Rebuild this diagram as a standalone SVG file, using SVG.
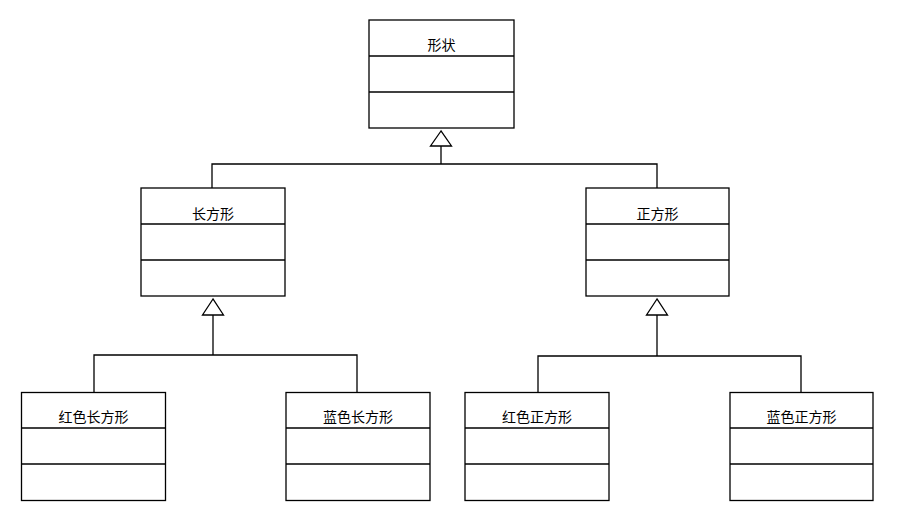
<svg xmlns="http://www.w3.org/2000/svg" width="899" height="525" viewBox="0 0 899 525">
<style>
.box{fill:#fff;stroke:#000;stroke-width:1.3}
.div{stroke:#000;stroke-width:1.3;fill:none}
.t{font-family:"Liberation Sans","Noto Sans CJK SC",sans-serif;font-size:14px;fill:#000;text-anchor:middle}
.c{stroke:#000;stroke-width:1.3;fill:none}
.tri{fill:#fff;stroke:#000;stroke-width:1.3}
</style>
<rect width="899" height="525" fill="#fff"/>
<g id="connectors">
<polyline class="c" points="441,146 441,164"/>
<polyline class="c" points="212,188 212,164 657,164 657,188"/>
<polygon class="tri" points="441,131 430.5,146 451.5,146"/>
<polyline class="c" points="213,315 213,355"/>
<polyline class="c" points="94,392 94,355 357,355 357,392"/>
<polygon class="tri" points="213,299 202.5,315 223.5,315"/>
<polyline class="c" points="657,315 657,356"/>
<polyline class="c" points="538,392 538,356 801,356 801,392"/>
<polygon class="tri" points="657,299 646.5,315 667.5,315"/>
</g>
<g id="shape">
<rect class="box" x="369" y="20" width="145" height="108"/>
<line class="div" x1="369" y1="56" x2="514" y2="56"/>
<line class="div" x1="369" y1="92" x2="514" y2="92"/>
<text class="t" x="441.5" y="50">形状</text>
</g>
<g id="rectangle">
<rect class="box" x="141" y="188" width="144" height="108"/>
<line class="div" x1="141" y1="224" x2="285" y2="224"/>
<line class="div" x1="141" y1="260" x2="285" y2="260"/>
<text class="t" x="213" y="218.5">长方形</text>
</g>
<g id="square">
<rect class="box" x="586" y="188" width="143" height="108"/>
<line class="div" x1="586" y1="224" x2="729" y2="224"/>
<line class="div" x1="586" y1="260" x2="729" y2="260"/>
<text class="t" x="657.5" y="218.5">正方形</text>
</g>
<g id="red-rectangle">
<rect class="box" x="21.5" y="392.5" width="144" height="108"/>
<line class="div" x1="21.5" y1="428" x2="165.5" y2="428"/>
<line class="div" x1="21.5" y1="464" x2="165.5" y2="464"/>
<text class="t" x="93.5" y="422">红色长方形</text>
</g>
<g id="blue-rectangle">
<rect class="box" x="286" y="392.5" width="144" height="108"/>
<line class="div" x1="286" y1="428" x2="430" y2="428"/>
<line class="div" x1="286" y1="464" x2="430" y2="464"/>
<text class="t" x="358" y="422">蓝色长方形</text>
</g>
<g id="red-square">
<rect class="box" x="465" y="392.5" width="144" height="108"/>
<line class="div" x1="465" y1="428" x2="609" y2="428"/>
<line class="div" x1="465" y1="464" x2="609" y2="464"/>
<text class="t" x="537" y="422">红色正方形</text>
</g>
<g id="blue-square">
<rect class="box" x="730" y="392.5" width="143" height="108"/>
<line class="div" x1="730" y1="428" x2="873" y2="428"/>
<line class="div" x1="730" y1="464" x2="873" y2="464"/>
<text class="t" x="801.5" y="422">蓝色正方形</text>
</g>
</svg>
